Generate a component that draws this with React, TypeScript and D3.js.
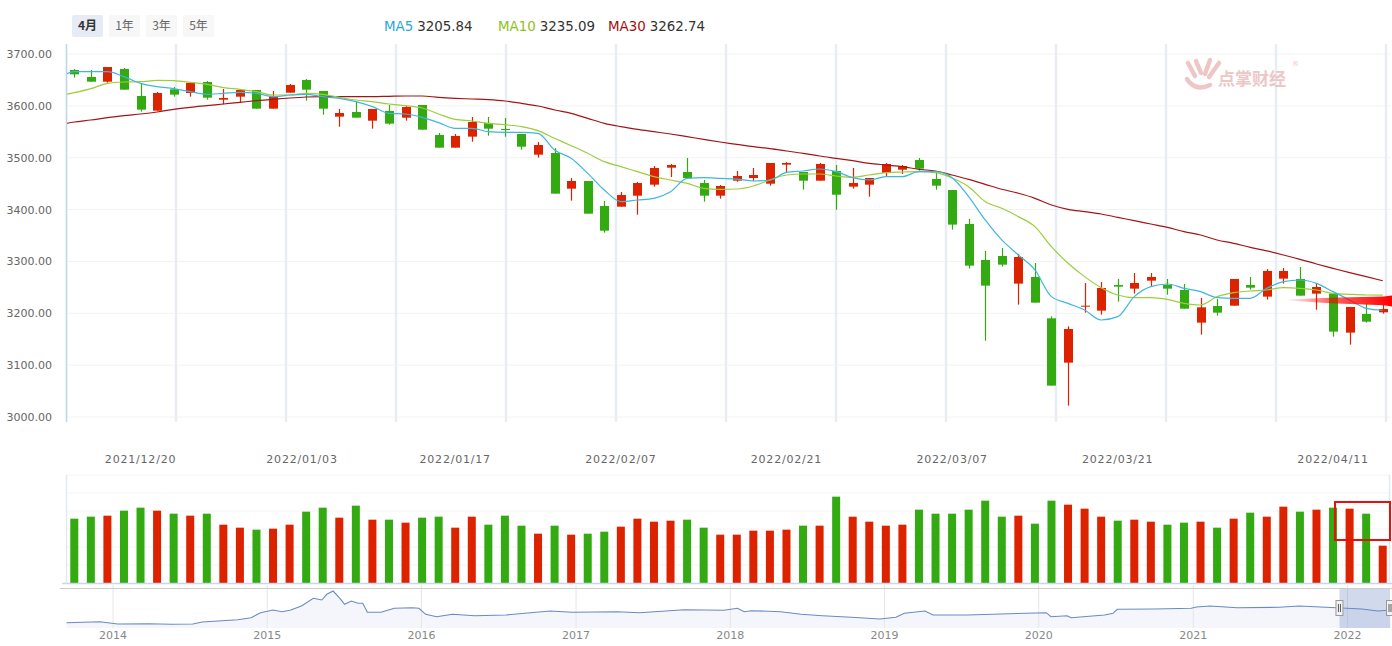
import React from "react";
import * as d3 from "d3";

const dates = [
  "2021/12/14","2021/12/15","2021/12/16","2021/12/17","2021/12/20","2021/12/21","2021/12/22","2021/12/23","2021/12/24","2021/12/27","2021/12/28","2021/12/29","2021/12/30","2021/12/31",
  "2022/01/04","2022/01/05","2022/01/06","2022/01/07","2022/01/10","2022/01/11","2022/01/12","2022/01/13","2022/01/14","2022/01/17","2022/01/18","2022/01/19","2022/01/20","2022/01/21","2022/01/24","2022/01/25","2022/01/26","2022/01/27","2022/01/28",
  "2022/02/07","2022/02/08","2022/02/09","2022/02/10","2022/02/11","2022/02/14","2022/02/15","2022/02/16","2022/02/17","2022/02/18","2022/02/21","2022/02/22","2022/02/23","2022/02/24","2022/02/25",
  "2022/02/28","2022/03/01","2022/03/02","2022/03/03","2022/03/04","2022/03/07","2022/03/08","2022/03/09","2022/03/10","2022/03/11","2022/03/14","2022/03/15","2022/03/16","2022/03/17","2022/03/18",
  "2022/03/21","2022/03/22","2022/03/23","2022/03/24","2022/03/25","2022/03/28","2022/03/29","2022/03/30","2022/03/31","2022/04/01","2022/04/06","2022/04/07","2022/04/08",
  "2022/04/11","2022/04/12","2022/04/13","2022/04/14"
];

const opens = [3669.1,3655.7,3646.6,3671.1,3619.0,3590.7,3631.9,3624.8,3646.0,3611.9,3617.7,3630.6,3594.6,3625.4,3649.9,3628.7,3579.2,3588.2,3571.4,3590.1,3577.2,3601.7,3543.8,3519.4,3540.6,3567.0,3555.4,3545.7,3505.9,3509.1,3440.3,3455.1,3406.9,3405.6,3426.8,3448.0,3480.8,3472.5,3451.2,3426.8,3455.7,3460.9,3449.9,3486.6,3472.5,3455.7,3474.4,3444.2,3448.0,3470.5,3476.9,3495.6,3459.0,3437.7,3372.2,3302.8,3310.5,3257.2,3270.0,3190.3,3104.8,3213.4,3205.1,3254.6,3247.5,3262.9,3254.6,3245.0,3182.0,3214.1,3214.7,3254.6,3232.1,3266.8,3266.2,3237.9,3237.9,3162.7,3198.7,3201.9];
const highs = [3671.1,3669.1,3674.9,3673.0,3643.4,3626.7,3636.4,3644.1,3647.9,3632.5,3630.6,3630.6,3628.7,3642.2,3651.8,3628.7,3594.0,3607.4,3594.0,3601.7,3599.7,3601.7,3547.7,3545.7,3578.5,3578.5,3576.6,3545.7,3530.3,3518.7,3460.9,3455.1,3416.5,3433.9,3453.2,3484.0,3487.9,3499.5,3457.0,3447.4,3474.4,3480.2,3489.8,3491.7,3472.5,3489.8,3485.9,3480.2,3460.9,3489.8,3485.9,3499.5,3472.5,3437.8,3381.9,3320.2,3326.0,3314.4,3297.0,3194.2,3174.9,3258.4,3260.4,3266.2,3277.7,3277.7,3266.2,3256.5,3229.5,3227.6,3266.2,3270.0,3285.4,3287.4,3289.3,3256.5,3237.9,3212.2,3218.6,3216.0];
const lows = [3654.4,3646.6,3644.7,3631.2,3588.8,3590.7,3617.7,3617.7,3611.9,3602.9,3607.4,3594.6,3594.6,3625.4,3610.0,3583.0,3559.9,3577.2,3556.0,3563.7,3571.4,3554.1,3519.4,3519.4,3531.0,3542.5,3540.6,3515.5,3500.1,3430.7,3417.2,3392.1,3355.5,3405.6,3390.2,3444.2,3462.8,3460.9,3415.2,3421.0,3453.8,3455.1,3446.1,3472.5,3438.4,3455.7,3399.8,3440.3,3424.9,3464.7,3468.6,3475.0,3438.4,3361.3,3286.1,3147.2,3290.0,3216.7,3220.5,3060.5,3021.9,3201.2,3197.4,3222.4,3237.9,3251.4,3236.0,3208.9,3158.8,3195.5,3214.7,3245.6,3226.3,3257.2,3234.0,3207.0,3155.0,3139.5,3182.0,3199.3];
const closes = [3660.8,3646.6,3674.9,3631.2,3592.7,3624.8,3621.6,3644.1,3615.8,3615.2,3630.6,3594.6,3619.0,3640.2,3631.2,3594.6,3586.2,3577.2,3594.0,3565.7,3597.8,3554.1,3519.4,3541.9,3568.9,3556.0,3554.1,3521.3,3524.5,3430.7,3455.1,3392.1,3359.3,3428.1,3451.2,3480.2,3485.9,3460.9,3426.8,3445.5,3464.7,3466.7,3489.8,3489.8,3455.7,3487.9,3428.7,3451.2,3460.9,3487.9,3484.0,3478.9,3446.1,3371.0,3291.9,3253.3,3293.8,3308.6,3220.5,3060.5,3169.7,3214.7,3248.8,3251.4,3258.4,3270.0,3247.5,3208.9,3211.5,3201.2,3266.2,3249.4,3281.6,3281.6,3234.0,3250.7,3164.6,3212.2,3183.9,3208.3];
const volumes = [193,199,202,217,226,217,208,202,208,175,166,160,163,175,214,226,196,232,190,190,181,196,199,166,199,175,202,172,148,172,145,148,154,169,193,184,187,190,166,145,145,157,157,160,172,172,259,199,184,172,175,220,208,208,220,247,199,202,178,247,235,223,199,187,190,184,175,181,184,166,193,211,199,229,214,220,226,223,208,112];

// moving averages: first value belongs to the previous trading day (2021/12/13)
const maStartDate = "2021/12/13";
const ma5 = [3652,3665.9,3665.9,3665.9,3656.3,3643.4,3637.0,3633.2,3627.4,3622.2,3624.2,3626.1,3624.2,3617.7,3620.9,3622.2,3617.7,3614.5,3608.1,3598.4,3585.6,3584.3,3577.9,3567.6,3556.7,3556.7,3550.2,3548.9,3548.9,3547.0,3514.9,3498.8,3469.9,3437.7,3415.3,3418.5,3421.7,3434.5,3460.2,3461.5,3460.2,3458.9,3455.1,3457.0,3471.8,3474.4,3478.2,3473.1,3461.5,3457.0,3463.5,3463.5,3473.1,3473.1,3461.5,3424.9,3380.0,3341.4,3312.4,3283.5,3232.1,3219.2,3206.4,3187.1,3193.5,3232.1,3251.4,3256.5,3248.2,3241.7,3230.2,3228.9,3228.9,3248.2,3261.0,3264.2,3257.8,3241.7,3225.7,3209.6,3205.84];
const ma10 = [3619,3625.4,3633.2,3643.4,3646.0,3646.6,3649.2,3648.6,3645.4,3641.5,3635.1,3631.9,3627.4,3620.9,3620.9,3624.2,3622.2,3616.4,3611.3,3608.1,3603.6,3600.4,3595.9,3584.3,3574.0,3570.8,3566.3,3563.7,3559.9,3552.2,3537.4,3523.2,3508.5,3492.4,3482.7,3473.1,3463.5,3457.0,3450.6,3441.0,3439.0,3439.7,3445.5,3457.0,3466.7,3468.6,3468.6,3464.7,3462.2,3466.7,3471.2,3472.5,3473.1,3471.2,3461.0,3444.2,3415.3,3402.4,3386.4,3367.1,3328.5,3296.4,3270.7,3249.4,3235.3,3230.2,3230.2,3226.9,3219.2,3216.0,3232.1,3239.8,3243.0,3244.9,3249.4,3248.2,3244.9,3238.5,3236.6,3235.3,3235.09];
const ma30 = [3563,3568.9,3572.7,3577.2,3581.1,3584.3,3588.2,3593.3,3597.2,3600.4,3603.6,3606.8,3610.0,3612.6,3615.2,3617.1,3617.7,3617.7,3617.7,3617.7,3618.4,3619.0,3619.0,3616.4,3614.5,3613.2,3611.9,3609.4,3604.9,3599.7,3592.0,3585.6,3575.9,3566.3,3559.9,3554.7,3550.2,3545.7,3540.6,3535.4,3530.3,3525.8,3521.3,3517.5,3513.0,3508.5,3503.3,3498.8,3494.3,3489.2,3485.9,3482.7,3477.6,3474.4,3466.7,3458.3,3448.7,3439.1,3431.4,3421.7,3408.9,3400.5,3396.0,3391.5,3385.1,3378.6,3372.2,3365.8,3357.4,3351.0,3341.4,3334.9,3327.2,3320.2,3312.4,3304.1,3295.1,3286.7,3278.4,3270.7,3262.74];

const legendItems = [
  { name: "MA5", value: "3205.84", color: "#2ba8d8" },
  { name: "MA10", value: "3235.09", color: "#8fc021" },
  { name: "MA30", value: "3262.74", color: "#a50d0d" },
];
const rangeButtons = ["4月", "1年", "3年", "5年"];
const priceTicks = [3000, 3100, 3200, 3300, 3400, 3500, 3600, 3700];
const dateTicks = ["2021/12/20","2022/01/03","2022/01/17","2022/02/07","2022/02/21","2022/03/07","2022/03/21","2022/04/11"];

const navDates = ["2013-09-13","2013-12-01","2014-01-12","2014-03-26","2014-05-19","2014-07-09","2014-07-31","2014-10-23","2014-11-24","2014-12-16","2015-01-15","2015-02-05","2015-02-26","2015-03-24","2015-04-20","2015-05-10","2015-05-22","2015-06-06","2015-06-22","2015-07-03","2015-07-19","2015-08-04","2015-08-15","2015-08-26","2015-09-27","2015-10-29","2015-12-10","2015-12-26","2016-01-11","2016-02-06","2016-03-14","2016-05-06","2016-07-19","2016-11-01","2016-12-23","2017-04-09","2017-05-31","2017-09-14","2017-12-17","2018-01-18","2018-02-03","2018-02-21","2018-04-30","2018-06-18","2018-08-07","2018-10-15","2018-12-21","2019-01-28","2019-02-17","2019-04-07","2019-04-26","2019-07-16","2019-10-23","2020-01-19","2020-01-30","2020-03-08","2020-03-18","2020-06-05","2020-06-25","2020-07-05","2020-10-01","2020-12-27","2021-01-08","2021-02-10","2021-04-15","2021-07-23","2021-09-09","2021-12-06","2022-02-04","2022-03-14","2022-04-14"];
const navValues = [2281,2372,2163,2190,2136,2163,2345,2554,2735,3189,3434,3280,3434,3825,4496,4342,4860,5159,4496,3952,4251,4043,4043,3225,3225,3589,3643,3589,3044,2826,3044,2917,2980,3343,3225,3280,3189,3461,3407,3589,3280,3371,3280,3044,2917,2771,2617,2771,3134,3343,2980,2980,3098,3189,2826,2917,2735,2980,3134,3498,3525,3589,3707,3797,3643,3679,3797,3643,3525,3343,3434];
const navYears = [2014, 2015, 2016, 2017, 2018, 2019, 2020, 2021, 2022];

const UP = "#dd2200";
const DOWN = "#33aa11";

export default function App() {
  const parse = d3.timeParse("%Y/%m/%d");
  const times = dates.map((d) => parse(d)!.getTime());

  const x = d3.scaleLinear().domain([-0.5, dates.length - 0.5]).range([66, 1391]);
  const y = d3.scaleLinear().domain([3000, 3700]).range([417, 54]);
  const yVol = d3.scaleLinear().domain([0, 324]).range([583, 475]);

  const ordinalPos = (t: number) => {
    for (let i = 0; i < times.length - 1; i++) {
      if (t >= times[i] && t <= times[i + 1]) return i + (t - times[i]) / (times[i + 1] - times[i]);
    }
    return t <= times[0] ? 0 : times.length - 1;
  };

  const maLine = (vals: number[]) =>
    d3.line<number>().x((_, i) => x(i - 1)).y((v) => y(v)).curve(d3.curveMonotoneX)(vals) || "";

  const navParse = d3.timeParse("%Y-%m-%d");
  const navX = d3.scaleTime().domain([new Date(2013, 8, 14), new Date(2022, 3, 14)]).range([67, 1391]);
  const navY = d3.scaleLinear().domain([1800, 5250]).range([628, 590]);
  const navPts = navDates.map((d, i) => [navX(navParse(d)!), navY(navValues[i])] as [number, number]);
  const navLine = d3.line().curve(d3.curveLinear)(navPts) || "";
  const navArea = d3.area().x((d) => d[0]).y0(628).y1((d) => d[1])(navPts) || "";
  const selStart = navX(parse(maStartDate)!);
  const selEnd = 1390;

  const font = "'DejaVu Sans', sans-serif";
  const vGrid = d3.range(0, 13).map((k) => 66 + 110 * k);

  return (
    <svg width={1392} height={646} style={{ position: "absolute", left: 0, top: 0, background: "#fff" }}>
      <defs>
        <clipPath id="plotClip"><rect x={67} y={44} width={1324} height={378} /></clipPath>
        <linearGradient id="arrowGrad" x1="0" x2="1" y1="0" y2="0">
          <stop offset="0" stopColor="#ff0000" stopOpacity={0.05} />
          <stop offset="0.4" stopColor="#ff0000" stopOpacity={0.6} />
          <stop offset="1" stopColor="#ff0000" stopOpacity={1} />
        </linearGradient>
      </defs>

      {/* range buttons */}
      {rangeButtons.map((b, i) => (
        <g key={b}>
          <rect x={72 + i * 37} y={15} width={31} height={22} rx={2} fill={i === 0 ? "#e6ebf5" : "#f7f7f7"} />
          <text x={72 + i * 37 + 15.5} y={30} textAnchor="middle" fontSize={12}
            fontFamily="'Noto Sans CJK SC', sans-serif" fontWeight={i === 0 ? 700 : 400} fill={i === 0 ? "#333" : "#666"}>{b}</text>
        </g>
      ))}

      {/* legend */}
      {legendItems.map((it, i) => {
        const lx = [384, 498, 608][i];
        return (
          <text key={it.name} x={lx} y={31} fontSize={13.4} fontFamily={font}>
            <tspan fill={it.color}>{it.name}</tspan>
            <tspan fill="#333" dx={4}>{it.value}</tspan>
          </text>
        );
      })}

      {/* main grid */}
      {priceTicks.map((p) => (
        <line key={p} x1={67} x2={1391} y1={y(p)} y2={y(p)} stroke="#f3f3f3" strokeWidth={1} />
      ))}
      {vGrid.slice(1).map((gx) => (
        <line key={gx} x1={gx} x2={gx} y1={44} y2={422} stroke="#e8edf3" strokeWidth={2.5} />
      ))}
      <line x1={66.5} x2={66.5} y1={44} y2={422} stroke="#c0d3ea" strokeWidth={1.5} />

      {/* y labels */}
      {priceTicks.map((p) => (
        <text key={p} x={52} y={y(p) + 4} textAnchor="end" fontSize={11} fontFamily={font} fill="#666">{p.toFixed(2)}</text>
      ))}

      {/* watermark */}
      <g opacity={0.75}>
        <g stroke="#eab4b4" strokeWidth={4.5} strokeLinecap="round" fill="none">
          <line x1={1188} y1={63} x2={1195} y2={76} />
          <line x1={1196} y1={61} x2={1201} y2={73} />
          <line x1={1210} y1={60} x2={1205} y2={74} />
          <line x1={1219} y1={63} x2={1209} y2={77} />
          <path d="M1187,79 Q1195,92 1210,85" />
        </g>
        <text x={1218} y={85} fontSize={17} fontWeight={700} fill="#eab4b4" fontFamily="'Noto Sans CJK SC', sans-serif">点掌财经</text>
        <text x={1292} y={66} fontSize={7} fill="#eab4b4" fontFamily={font}>®</text>
      </g>

      {/* candles */}
      <g clipPath="url(#plotClip)">
        {dates.map((d, i) => {
          const up = closes[i] >= opens[i];
          const c = up ? UP : DOWN;
          const cx = Math.round(x(i)) + 0.5;
          const top = y(Math.max(opens[i], closes[i]));
          const bot = y(Math.min(opens[i], closes[i]));
          return (
            <g key={d}>
              <line x1={cx} x2={cx} y1={y(highs[i])} y2={y(lows[i])} stroke={c} strokeWidth={1.2} />
              <rect x={cx - 4.5} y={top} width={9} height={Math.max(1, bot - top)} fill={c} />
            </g>
          );
        })}
        <path d={maLine(ma30)} fill="none" stroke="#a31515" strokeWidth={1.2} />
        <path d={maLine(ma10)} fill="none" stroke="#9dcc3c" strokeWidth={1.2} />
        <path d={maLine(ma5)} fill="none" stroke="#3fb6dd" strokeWidth={1.2} />
      </g>

      {/* red arrow annotation */}
      <path d="M1288,299.6 L1330,297.8 L1384,296.6 L1392,295.5 L1392,306.5 L1384,305.2 L1330,303.2 L1288,300.6 Z" fill="url(#arrowGrad)" />

      {/* date labels */}
      {dateTicks.map((t) => (
        <text key={t} x={x(ordinalPos(parse(t)!.getTime()))} y={463} textAnchor="middle" fontSize={11}
          letterSpacing={0.8} fontFamily={font} fill="#666">{t}</text>
      ))}

      {/* volume panel */}
      {d3.range(1, 7).map((k) => (
        <line key={k} x1={67} x2={1391} y1={yVol(54 * k)} y2={yVol(54 * k)} stroke="#f5f5f5" />
      ))}
      <line x1={66.5} x2={66.5} y1={475} y2={583} stroke="#e3e9f1" strokeWidth={1.5} />
      <line x1={1389.5} x2={1389.5} y1={475} y2={583} stroke="#e3e9f1" strokeWidth={1.5} />
      {volumes.map((v, i) => (
        <rect key={i} x={x(i) - 4} y={yVol(v)} width={8} height={yVol(0) - yVol(v)}
          fill={closes[i] >= opens[i] ? UP : DOWN} />
      ))}
      <line x1={62} x2={1392} y1={583.5} y2={583.5} stroke="#ccd6eb" strokeWidth={1.5} />
      <rect x={1335} y={502} width={55} height={38} fill="none" stroke="#e8100a" strokeWidth={2} />

      {/* navigator */}
      <path d={navArea} fill="#f4f6fb" />
      {navYears.map((yr) => {
        const gx = navX(new Date(yr, 0, 1));
        return (
          <g key={yr}>
            <line x1={gx} x2={gx} y1={585} y2={628} stroke="#e6e6e6" />
            <text x={gx} y={639} textAnchor="middle" fontSize={11} fontFamily={font} fill="#888">{yr}</text>
          </g>
        );
      })}
      <path d={navLine} fill="none" stroke="#6a8ac4" strokeWidth={1.1} />
      <rect x={selStart} y={588} width={selEnd - selStart} height={40} fill="rgba(102,133,194,0.3)" />
      <line x1={60} x2={1392} y1={588.5} y2={588.5} stroke="#cccccc" />
      {[selStart, selEnd].map((hx, i) => (
        <g key={i}>
          <rect x={hx - 3.5} y={600.5} width={7} height={15} fill="#f2f2f2" stroke="#999" />
          <line x1={hx - 1} x2={hx - 1} y1={604} y2={612} stroke="#333" strokeWidth={0.8} />
          <line x1={hx + 1} x2={hx + 1} y1={604} y2={612} stroke="#333" strokeWidth={0.8} />
        </g>
      ))}
    </svg>
  );
}
